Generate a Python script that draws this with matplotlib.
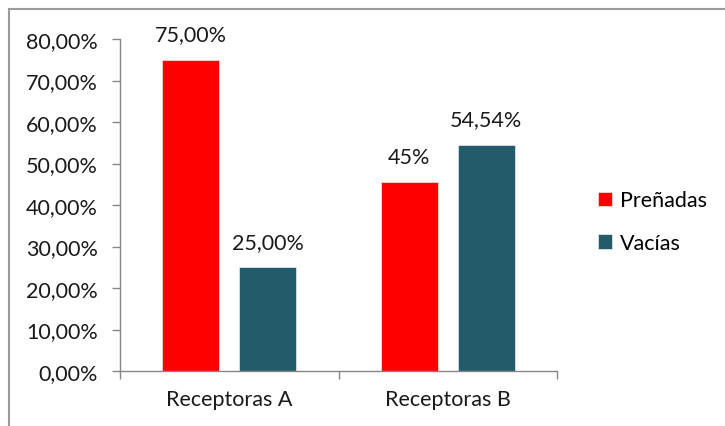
import matplotlib
matplotlib.use("Agg")
import matplotlib.pyplot as plt
from matplotlib.lines import Line2D
from matplotlib.ticker import FuncFormatter
import numpy as np

# data
categories = ["Receptoras A", "Receptoras B"]
series_names = ["Preñadas", "Vacías"]
prenadas = [75.00, 45.45]
vacias = [25.00, 54.54]
prenadas_labels = ["75,00%", "45%"]
vacias_labels = ["25,00%", "54,54%"]

red = "#FF0000"
teal = "#245B6A"
axis_gray = "#868686"
fs = 15.5

plt.rcParams['font.family'] = ['Lato', 'DejaVu Sans']

fig = plt.figure(figsize=(7.25, 4.27), dpi=100)
ax = fig.add_axes([120/725, 55/427, 437/725, 332/427])

x = np.arange(len(categories))
w = 0.26
off = 0.176
b1 = ax.bar(x - off, prenadas, w, color=red, label=series_names[0],
            edgecolor="#ffffff", linewidth=0.4)
b2 = ax.bar(x + off, vacias, w, color=teal, label=series_names[1],
            edgecolor="#ffffff", linewidth=0.4)

ax.bar_label(b1, labels=prenadas_labels, padding=11, fontsize=fs, color="#1a1a1a")
ax.bar_label(b2, labels=vacias_labels, padding=11, fontsize=fs, color="#1a1a1a")

ax.set_xlim(-0.5, len(categories) - 0.5)
ax.set_ylim(0, 80)
ax.set_yticks(np.arange(0, 81, 10))
ax.yaxis.set_major_formatter(FuncFormatter(lambda v, p: ("%.2f%%" % v).replace(".", ",")))

ax.set_xticks(x)
ax.set_xticklabels(categories)
ax.set_xticks([-0.5, 0.5, 1.5], minor=True)
ax.tick_params(axis="x", which="major", length=0, pad=13, labelsize=fs, colors="#1a1a1a")
ax.tick_params(axis="x", which="minor", length=6, width=1, color=axis_gray)
ax.tick_params(axis="y", length=6, width=1, color=axis_gray, pad=10, labelsize=fs, labelcolor="#1a1a1a")

for s in ["top", "right"]:
    ax.spines[s].set_visible(False)
for s in ["left", "bottom"]:
    ax.spines[s].set_color(axis_gray)
    ax.spines[s].set_linewidth(1)

leg = ax.legend(loc="center left", bbox_to_anchor=(1.094, 0.45), frameon=False,
                fontsize=fs, handlelength=0.65, handleheight=0.65,
                handletextpad=0.35, labelspacing=1.05,
                borderpad=0, borderaxespad=0)

# chart border (top and left edges visible)
fig.add_artist(Line2D([9/725, 9/725], [0, 1 - 10/427], color="#9a9a9a", lw=1.5))
fig.add_artist(Line2D([9/725, 1], [1 - 10/427, 1 - 10/427], color="#9a9a9a", lw=1.5))

fig.savefig("out.png", dpi=100)
